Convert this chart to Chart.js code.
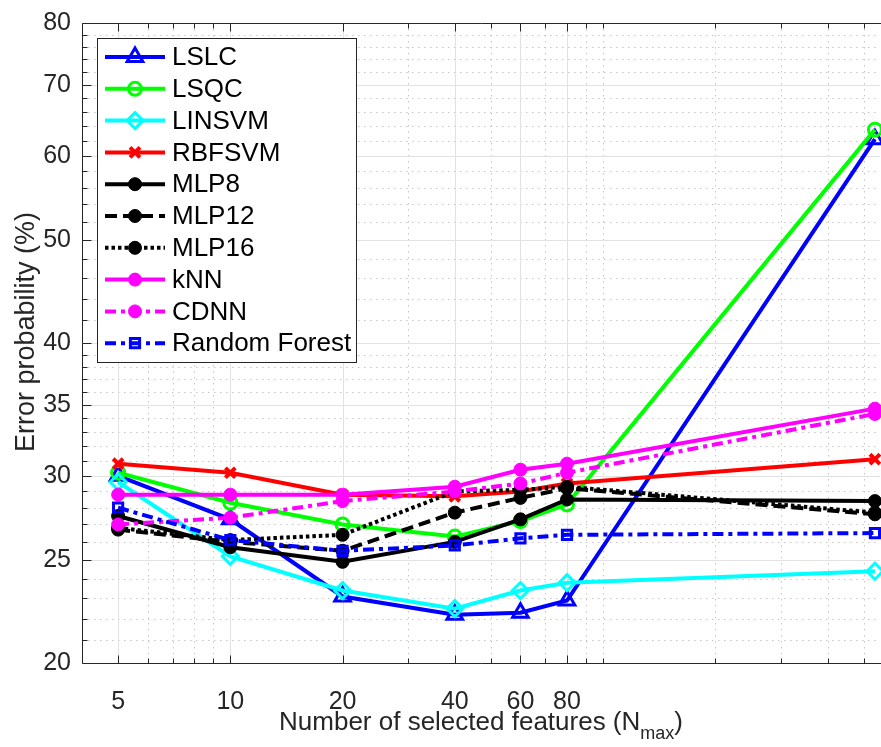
<!DOCTYPE html>
<html>
<head>
<meta charset="utf-8">
<title>Error probability vs. number of selected features</title>
<script src="https://cdn.jsdelivr.net/npm/chart.js@4.4.1/dist/chart.umd.min.js"></script>
<style>
  html, body { margin: 0; padding: 0; background: #fff; }
  #wrap { width: 881px; height: 747px; }
</style>
</head>
<body>
<div id="wrap"><canvas id="errChart" width="881" height="747"></canvas></div>
<script>
/* data: error probability (%) per number of selected features */
const features = [5, 10, 20, 40, 60, 80, 536];

const lslc         = [30.0, 27.3, 23.1, 22.2, 22.3, 22.9, 62.2];
const lsqc         = [30.2, 28.3, 27.0, 26.3, 27.2, 28.2, 63.5];
const linsvm       = [29.6, 25.2, 23.4, 22.5, 23.4, 23.8, 24.4];
const rbfsvm       = [30.8, 30.2, 28.8, 28.7, 29.0, 29.5, 31.1];
const mlp8         = [27.5, 25.7, 24.9, 26.0, 27.3, 28.5, 28.4];
const mlp12        = [26.7, 26.0, 25.5, 27.7, 28.6, 29.2, 27.6];
const mlp16        = [26.8, 26.1, 26.4, 29.0, 29.1, 29.3, 27.7];
const knn          = [28.8, 28.8, 28.8, 29.3, 30.4, 30.8, 34.7];
const cdnn         = [27.0, 27.4, 28.4, 29.0, 29.5, 30.2, 34.3];
const randomForest = [28.0, 26.1, 25.5, 25.8, 26.2, 26.4, 26.5];

/* axis ticks */
const xTicks = [5, 10, 20, 40, 60, 80];
const xMinorTicks = [6, 7, 8, 9, 30, 50, 70, 90, 100, 200, 300, 400, 500];
const yTicks = [20, 25, 30, 35, 40, 50, 60, 70, 80];
const yMinorTicks = [21, 22, 23, 24, 26, 27, 28, 29, 31, 32, 33, 34, 36, 37, 38, 39,
                     42, 44, 46, 48, 52, 54, 56, 58, 62, 64, 66, 68, 72, 74, 76, 78];

const FONT = "'Liberation Sans', Arial, Helvetica, sans-serif";
const AXIS_COLOR = "#262626";

const DASHED = [12, 6];
const DOTTED = [3.5, 3];
const DASHDOT = [11, 5, 4, 5];

function series(label, values, color, style) {
  return Object.assign({
    label: label,
    data: values.map((v, i) => ({ x: features[i], y: v })),
    borderColor: color,
    borderWidth: 4,
    borderDash: [],
    borderCapStyle: "butt",
    pointBorderColor: color,
    pointBackgroundColor: "rgba(0,0,0,0)",
    pointBorderWidth: 3,
    pointRadius: 7,
    tension: 0,
    fill: false,
    clip: false
  }, style);
}

const datasets = [
  series("LSLC", lslc, "#0000ff", { pointStyle: "triangle", pointRadius: 9 }),
  series("LSQC", lsqc, "#00ff00", { pointStyle: "circle", pointRadius: 6.5 }),
  series("LINSVM", linsvm, "#00ffff", { pointStyle: "rectRot", pointRadius: 8 }),
  series("RBFSVM", rbfsvm, "#ff0000", { pointStyle: "crossRot", pointRadius: 7, pointBorderWidth: 4 }),
  series("MLP8", mlp8, "#000000", { pointStyle: "circle", pointRadius: 6.5, pointBackgroundColor: "#000000", pointBorderWidth: 1 }),
  series("MLP12", mlp12, "#000000", { borderDash: DASHED, pointStyle: "circle", pointRadius: 6.5, pointBackgroundColor: "#000000", pointBorderWidth: 1 }),
  series("MLP16", mlp16, "#000000", { borderDash: DOTTED, pointStyle: "circle", pointRadius: 6.5, pointBackgroundColor: "#000000", pointBorderWidth: 1 }),
  series("kNN", knn, "#ff00ff", { pointStyle: "circle", pointRadius: 6.5, pointBackgroundColor: "#ff00ff", pointBorderWidth: 1 }),
  series("CDNN", cdnn, "#ff00ff", { borderDash: DASHDOT, pointStyle: "circle", pointRadius: 6.5, pointBackgroundColor: "#ff00ff", pointBorderWidth: 1 }),
  series("Random Forest", randomForest, "#0000ff", { borderDash: DASHDOT, pointStyle: "rect", pointRadius: 6.5, pointBorderWidth: 3 })
];
// later series are painted on top
datasets.forEach((d, i) => { d.order = -i; });

/* grid: dotted minor lines, solid light major lines */
const gridPlugin = {
  id: "logGrid",
  beforeDatasetsDraw(chart) {
    const { ctx, chartArea: a, scales: { x, y } } = chart;
    const vline = v => { const p = Math.round(x.getPixelForValue(v)) + 0.5; ctx.beginPath(); ctx.moveTo(p, a.top); ctx.lineTo(p, a.bottom); ctx.stroke(); };
    const hline = v => { const p = Math.round(y.getPixelForValue(v)) + 0.5; ctx.beginPath(); ctx.moveTo(a.left, p); ctx.lineTo(a.right, p); ctx.stroke(); };
    ctx.save();
    ctx.lineWidth = 1;
    ctx.strokeStyle = "#c6c6c6";
    ctx.setLineDash([1.5, 4.5]);
    xMinorTicks.forEach(vline);
    yMinorTicks.forEach(hline);
    ctx.setLineDash([]);
    ctx.strokeStyle = "#e2e2e2";
    xTicks.forEach(vline);
    yTicks.slice(1, -1).forEach(hline);
    ctx.restore();
  }
};

/* axes box, inward ticks, legend and axis titles */
const framePlugin = {
  id: "frame",
  afterDatasetsDraw(chart) {
    const { ctx, chartArea: a, scales: { x, y } } = chart;
    const L = a.left + 0.5, B = Math.round(a.bottom) + 0.5, T = Math.round(a.top) + 0.5;
    ctx.save();
    ctx.strokeStyle = AXIS_COLOR;
    ctx.lineWidth = 1;
    ctx.beginPath();
    ctx.moveTo(a.right + 1, T); ctx.lineTo(L, T); ctx.lineTo(L, B); ctx.lineTo(a.right + 1, B);
    ctx.stroke();

    const xTick = (v, len) => {
      const p = Math.round(x.getPixelForValue(v)) + 0.5;
      ctx.beginPath();
      ctx.moveTo(p, B); ctx.lineTo(p, B - len);
      ctx.moveTo(p, T); ctx.lineTo(p, T + len);
      ctx.stroke();
    };
    const yTick = (v, len) => {
      const p = Math.round(y.getPixelForValue(v)) + 0.5;
      ctx.beginPath();
      ctx.moveTo(L, p); ctx.lineTo(L + len, p);
      ctx.stroke();
    };
    xTicks.forEach(v => xTick(v, 8));
    xMinorTicks.forEach(v => xTick(v, 5));
    yTicks.forEach(v => yTick(v, 9));
    yMinorTicks.forEach(v => yTick(v, 5));

    // legend
    const box = { left: 97, top: 38, right: 356, bottom: 362 };
    ctx.fillStyle = "#ffffff";
    ctx.fillRect(box.left, box.top, box.right - box.left, box.bottom - box.top);
    ctx.strokeStyle = AXIS_COLOR;
    ctx.lineWidth = 1;
    ctx.strokeRect(box.left + 0.5, box.top + 0.5, box.right - box.left, box.bottom - box.top);

    ctx.font = "26px " + FONT;
    ctx.textBaseline = "middle";
    ctx.textAlign = "left";
    chart.data.datasets.forEach((d, i) => {
      const cy = 57 + i * 31.8;
      ctx.save();
      ctx.strokeStyle = d.borderColor;
      ctx.lineWidth = d.borderWidth;
      ctx.lineCap = "butt";
      ctx.setLineDash(d.borderDash);
      ctx.beginPath();
      ctx.moveTo(105, cy); ctx.lineTo(165, cy);
      ctx.stroke();
      ctx.setLineDash([]);
      ctx.fillStyle = d.pointBackgroundColor;
      ctx.strokeStyle = d.pointBorderColor;
      ctx.lineWidth = d.pointBorderWidth;
      Chart.helpers.drawPoint(ctx, {
        pointStyle: d.pointStyle, radius: d.pointRadius, rotation: 0, borderWidth: d.pointBorderWidth
      }, 135, cy);
      ctx.restore();
      ctx.fillStyle = "#000000";
      ctx.fillText(d.label, 172, cy + 1);
    });

    // axis titles
    ctx.fillStyle = AXIS_COLOR;
    ctx.textBaseline = "alphabetic";
    ctx.save();
    ctx.translate(34, 332);
    ctx.rotate(-Math.PI / 2);
    ctx.textAlign = "center";
    ctx.font = "27px " + FONT;
    ctx.fillText("Error probability (%)", 0, 0);
    ctx.restore();

    const main = "Number of selected features (N", sub = "max", tail = ")";
    ctx.font = "26px " + FONT;
    const wMain = ctx.measureText(main).width, wTail = ctx.measureText(tail).width;
    ctx.font = "18px " + FONT;
    const wSub = ctx.measureText(sub).width;
    let tx = (a.left + a.right) / 2 - (wMain + wSub + wTail) / 2;
    const base = 730;
    ctx.textAlign = "left";
    ctx.font = "26px " + FONT;
    ctx.fillText(main, tx, base);
    tx += wMain;
    ctx.font = "18px " + FONT;
    ctx.fillText(sub, tx, base + 9);
    tx += wSub;
    ctx.font = "26px " + FONT;
    ctx.fillText(tail, tx, base);
    ctx.restore();
  }
};

// keep the plot box fixed: no extra room for edge labels
function fixBox(size) {
  return s => {
    if (s.isHorizontal()) s.height = size; else s.width = size;
    s.paddingLeft = 0; s.paddingRight = 0; s.paddingTop = 0; s.paddingBottom = 0;
  };
}

new Chart(document.getElementById("errChart"), {
  type: "line",
  data: { datasets: datasets },
  plugins: [gridPlugin, framePlugin],
  options: {
    responsive: false,
    animation: false,
    events: [],
    layout: { autoPadding: false, padding: { top: 23, right: 1, bottom: 0, left: 0 } },
    plugins: { legend: { display: false }, tooltip: { enabled: false } },
    scales: {
      x: {
        type: "logarithmic",
        bounds: "data",
        min: 4,
        max: 553,
        afterBuildTicks: s => { s.ticks = xTicks.map(v => ({ value: v })); },
        afterFit: fixBox(84),
        grid: { display: false, drawTicks: false },
        border: { display: false },
        ticks: {
          autoSkip: false, maxRotation: 0, padding: 24,
          color: AXIS_COLOR, font: { family: FONT, size: 25 },
          callback: v => String(v)
        }
      },
      y: {
        type: "logarithmic",
        bounds: "data",
        min: 20,
        max: 80,
        afterBuildTicks: s => { s.ticks = yTicks.map(v => ({ value: v })); },
        afterFit: fixBox(82),
        grid: { display: false, drawTicks: false },
        border: { display: false },
        ticks: {
          autoSkip: false, padding: 11,
          color: AXIS_COLOR, font: { family: FONT, size: 25 },
          callback: v => String(v)
        }
      }
    }
  }
});
</script>
</body>
</html>
